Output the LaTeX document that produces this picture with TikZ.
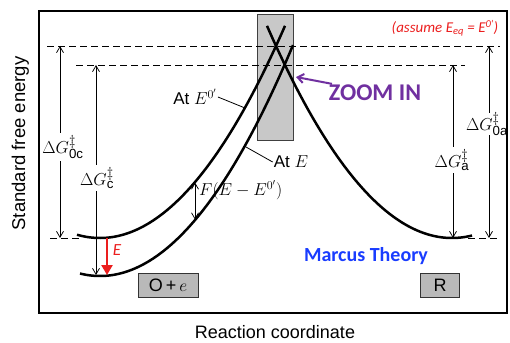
\documentclass[tikz,border=0pt]{standalone}
\usepackage{fontspec}
\setmainfont{Liberation Sans}
\newfontfamily\carlito{Carlito}
\usetikzlibrary{arrows.meta}
\definecolor{zoompurple}{RGB}{112,48,160}
\definecolor{mblue}{RGB}{25,60,255}
\definecolor{boxgray}{RGB}{185,185,185}
\definecolor{zgray}{RGB}{200,200,200}
\definecolor{mred}{RGB}{235,30,30}
\newcommand{\fs}[1]{\fontsize{#1}{#1}\selectfont}
\begin{document}
\begin{tikzpicture}[x=1pt,y=-1pt,
  curveline/.style={line width=2.5pt},
  dashline/.style={line width=0.9pt, dash pattern=on 7pt off 4pt},
  garrow/.style={line width=0.75pt, -{Straight Barb[length=6pt,width=7pt]}},
  dgl/.style={inner sep=2pt, font=\fs{19}},
  leader/.style={line width=0.8pt},
  species/.style={draw=black!80, line width=0.8pt, fill=boxgray, minimum height=24pt, inner sep=0pt, font=\fs{18}}
]
\useasboundingbox (0,0) rectangle (510,342);

% frame
\draw[line width=1.4pt] (39,11) rectangle (507,313);

% zoom box
\node[draw=black!75, line width=0.8pt, fill=zgray, minimum width=36pt, minimum height=126pt, inner sep=0pt] (zbox) at (275,77) {};

% dashed levels
\draw[dashline] (47,46) -- (500,46);
\draw[dashline] (76,65) -- (465,65);
\draw[dashline] (50,238) -- (80,238);
\draw[dashline] (468,238) -- (500,238);

% curves
\draw[curveline] plot[domain=77:285, samples=80] (\x, {238-(0.07874*(\x-100))^2});
\draw[curveline] plot[domain=80:293, samples=80] (\x, {276-(0.07874*(\x-100))^2});
\draw[curveline] plot[domain=267:472, samples=80] (\x, {238-(0.07874*(\x-452))^2});

% Delta G labels and arrows
\coordinate (a0c-top) at (60,46);   \coordinate (a0c-bot) at (60,238);
\coordinate (ac-top) at (96,65);    \coordinate (ac-bot) at (96,275);
\coordinate (aa-top) at (453,65);   \coordinate (aa-bot) at (453,238);
\coordinate (a0a-top) at (489,46);  \coordinate (a0a-bot) at (489,238);

\node[dgl] (g0c) at (63,147) {$\Delta G^{\ddagger}_{\mathrm{0c}}$};
\node[dgl] (gc) at (97,178) {$\Delta G^{\ddagger}_{\mathrm{c}}$};
\node[dgl] (ga) at (452,160) {$\Delta G^{\ddagger}_{\mathrm{a}}$};
\node[dgl, inner sep=1pt] (g0a) at (487,124) {$\Delta G^{\ddagger}_{\mathrm{0a}}$};

\draw[garrow] (g0c.north -| a0c-top) -- (a0c-top);
\draw[garrow] (g0c.south -| a0c-bot) -- (a0c-bot);
\draw[garrow] (gc.north -| ac-top) -- (ac-top);
\draw[garrow] (gc.south -| ac-bot) -- (ac-bot);
\draw[garrow] (ga.north -| aa-top) -- (aa-top);
\draw[garrow] (ga.south -| aa-bot) -- (aa-bot);
\draw[garrow] ([yshift=-2pt]g0a.north -| a0a-top) -- (a0a-top);
\draw[garrow] ([yshift=2pt]g0a.south -| a0a-bot) -- (a0a-bot);

% F(E-E0') double arrow
\coordinate (f-top) at (195,182.5);
\coordinate (f-bot) at (195,219.5);
\draw[line width=0.75pt, {Straight Barb[length=6pt,width=7pt]}-{Straight Barb[length=6pt,width=7pt]}] (f-top) -- (f-bot);
\node[font=\fs{18}, anchor=west, inner sep=0pt] (flab) at (199,190) {$F(E-E^{0'})$};

% At labels
\node[font=\fs{17}, inner sep=1pt] (ate0) at (195,97) {At $E^{0'}$};
\coordinate (ate0-pt) at (245,108);
\draw[leader] (ate0.east) -- (ate0-pt);
\node[font=\fs{17}, inner sep=1pt] (ate) at (291,162) {At $E$};
\coordinate (ate-pt) at (246,147);
\draw[leader] (ate.west) -- (ate-pt);

% red E arrow
\coordinate (e-top) at (107,238);
\coordinate (e-bot) at (107,275);
\draw[mred, line width=2.8pt, -{Triangle[length=10pt,width=11pt]}] (e-top) -- (e-bot);
\node[mred, font=\carlito\itshape\fs{17}] (elab) at (117,250) {E};

% species boxes
\node[species, minimum width=60pt] (oe) at (168,285) {O\,+\,$e$};
\node[species, minimum width=39pt] (r) at (440,285) {R};

% annotations
\node[zoompurple, font=\carlito\bfseries\fs{24}, inner sep=1pt] (zin) at (375,93) {ZOOM IN};
\coordinate (ztip) at (296,77);
\draw[zoompurple, line width=2pt, -{Straight Barb[length=6pt,width=9pt]}] (zin.168) -- (ztip);
\node[mblue, font=\carlito\bfseries\fs{20}] (marcus) at (366,256) {Marcus Theory};
\node[mred, font=\carlito\itshape\fs{15}] (assume) at (445,28) {(assume E\textsubscript{eq} = E\textsuperscript{0'})};

% axis labels
\node[font=\fs{18.5}, rotate=90, anchor=base, inner sep=0pt] (ylab) at (25,143.5) {Standard free energy};
\node[font=\fs{18}, anchor=base, inner sep=0pt] (xlab) at (275,338) {Reaction coordinate};
\end{tikzpicture}
\end{document}
